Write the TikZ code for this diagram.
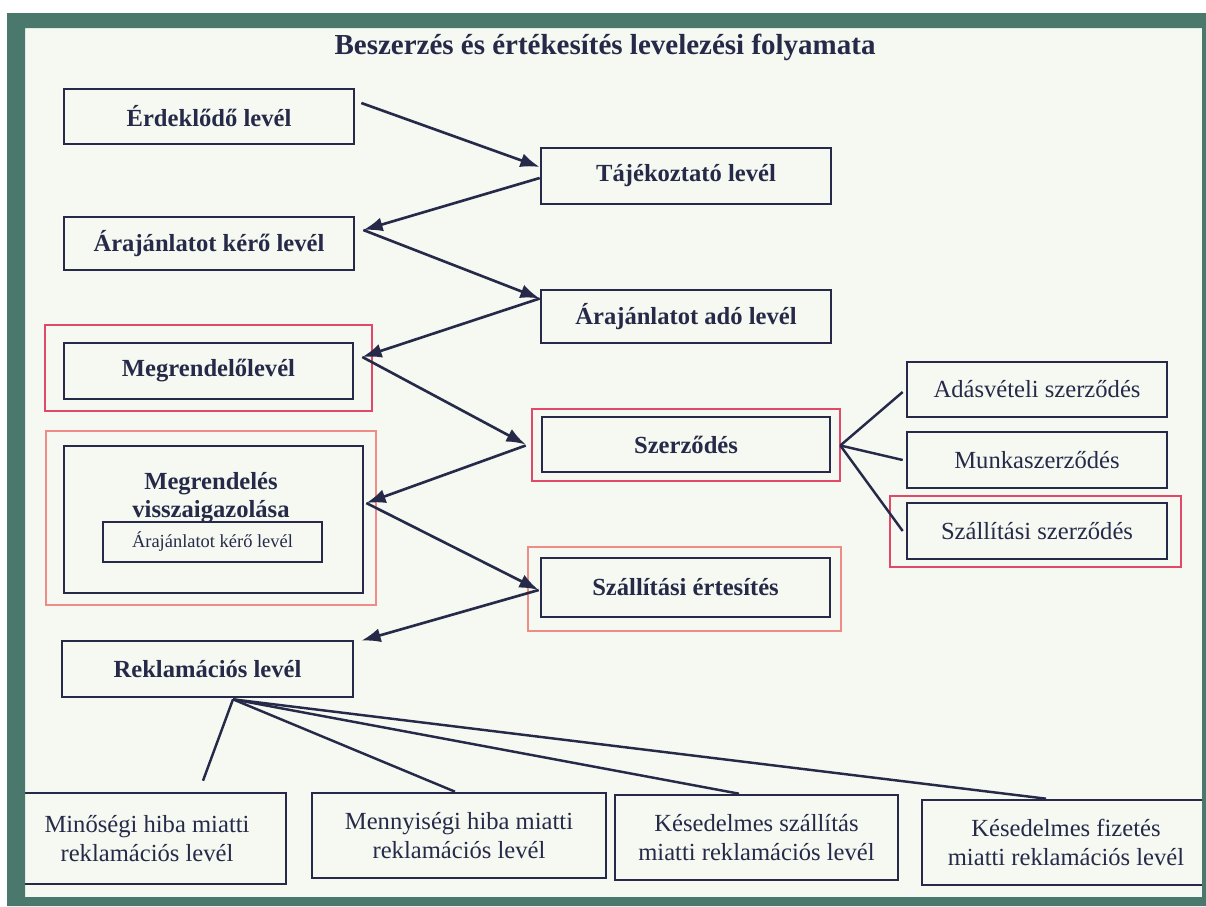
\documentclass[tikz,border=0pt]{standalone}
\usepackage{fontspec}
\setmainfont{Liberation Serif}
\usetikzlibrary{arrows.meta,calc}
\definecolor{framec}{RGB}{74,120,108}
\definecolor{paper}{RGB}{245,249,242}
\definecolor{ink}{RGB}{38,42,72}
\definecolor{redA}{RGB}{226,72,104}
\definecolor{redB}{RGB}{240,140,135}
\begin{document}
\begin{tikzpicture}[x=0.02cm,y=-0.02cm,
  box/.style={draw=ink, line width=1.5pt, inner sep=0pt, align=center, text=ink},
  bl/.style={font=\fontsize{14}{16}\selectfont\bfseries},
  rl/.style={font=\fontsize{14}{16}\selectfont},
  redbox/.style={draw=redA, line width=1.2pt, inner sep=0pt},
  redboxl/.style={draw=redB, line width=0.9pt, inner sep=0pt},
  arr/.style={draw=ink, line width=1.5pt, -{Latex[length=11pt,width=8pt]}},
  ln/.style={draw=ink, line width=1.4pt},
  wh/.style 2 args={minimum width=#1*0.02cm, minimum height=#2*0.02cm}]
\useasboundingbox (0,0) rectangle (1206,906);
\fill[white] (0,0) rectangle (1206,906);
\fill[paper] (25,28) rectangle (1202,897);

\node[font=\fontsize{16.5}{18}\selectfont\bfseries, text=ink] (title) at (605,47) {Beszerzés és értékesítés levelezési folyamata};

% red frames
\node[redbox, wh={327}{86}] (megR) at (208.5,368) {};
\node[redbox, wh={308}{72}] (szerR) at (686,445) {};
\node[redboxl, wh={330}{174}] (mviR) at (211,518) {};
\node[redboxl, wh={313}{84}] (szeR) at (684.5,589) {};
\node[redbox, wh={291}{71}] (szszR) at (1035.5,531.5) {};

% left column
\node[box, bl, wh={290}{55}] (erd) at (209,116.5) {Érdeklődő levél};
\node[box, bl, wh={290}{53}] (akl) at (209,243.5) {Árajánlatot kérő levél};
\node[box, bl, wh={289}{56}] (meg) at (208.5,371) {Megrendelőlevél};
\node[box, wh={299}{147}] (mvi) at (213.5,519.5) {};
\node[bl, text=ink, align=center] (mvit) at (211,498) {Megrendelés\\visszaigazolása};
\node[box, line width=1.3pt, font=\fontsize{10.5}{12}\selectfont, wh={219}{40}] (inner) at (212.5,542) {Árajánlatot kérő levél};
\node[box, bl, wh={291}{56}] (rek) at (207.5,669) {Reklamációs levél};

% middle column
\node[box, bl, wh={290}{56}] (taj) at (686,176) {Tájékoztató levél};
\node[box, bl, wh={290}{53}] (aad) at (686,316.5) {Árajánlatot adó levél};
\node[box, bl, wh={288}{55}] (szer) at (686,444.5) {Szerződés};
\node[box, bl, wh={289}{59}] (sze) at (685.5,587.5) {Szállítási értesítés};

% right column
\node[box, rl, wh={260}{55}] (adas) at (1037,389.5) {Adásvételi szerződés};
\node[box, rl, wh={260}{56}] (munka) at (1037,460) {Munkaszerződés};
\node[box, rl, wh={260}{56}] (szsz) at (1037,531) {Szállítási szerződés};

% bottom row
\node[box, rl, wh={278}{91}] (minh) at (147,838.5) {Minőségi hiba miatti\\reklamációs levél};
\node[box, rl, wh={294}{85}] (menny) at (459,835.5) {Mennyiségi hiba miatti\\reklamációs levél};
\node[box, rl, wh={283}{85}] (kszall) at (756.5,837.5) {Késedelmes szállítás\\miatti reklamációs levél};
\node[box, rl, wh={288}{85}] (kfiz) at (1066,842.5) {Késedelmes fizetés\\miatti reklamációs levél};

% arrows
\draw[arr] ($(erd.east)+(6,-13.5)$) -- ($(taj.west)+(0,-9)$);
\draw[arr] ($(taj.west)+(0,2)$) -- ($(akl.east)+(8,-13.5)$);
\draw[arr] ($(akl.east)+(8,-13.5)$) -- ($(aad.west)+(0,-18)$);
\draw[arr] ($(aad.west)+(0,-18)$) -- ($(meg.east)+(8,-14)$);
\draw[arr] ($(meg.east)+(8,-14)$) -- ($(szer.west)+(-15,0)$);
\draw[arr] ($(szer.west)+(-15,1)$) -- ($(mvi.east)+(2,-16.5)$);
\draw[arr] ($(mvi.east)+(2,-16.5)$) -- ($(sze.west)+(-1,2.5)$);
\draw[arr] ($(sze.west)+(-1,2.5)$) -- ($(rek.north east)+(7,1)$);

% Szerzodes branches
\draw[ln] ($(szer.east)+(9,1)$) -- ($(adas.west)+(-3,2.5)$);
\draw[ln] ($(szer.east)+(9,1)$) -- ($(munka.west)+(-3,0)$);
\draw[ln] ($(szer.east)+(9,1)$) -- ($(szsz.west)+(-3,0)$);

% Reklamacios fan
\draw[ln] ($(rek.south)+(25.5,1)$) -- ($(minh.north)+(56,-11)$);
\draw[ln] ($(rek.south)+(25.5,1)$) -- ($(menny.north)+(-4,0)$);
\draw[ln] ($(rek.south)+(25.5,1)$) -- ($(kszall.north)+(-17.5,0)$);
\draw[ln] ($(rek.south)+(25.5,1)$) -- ($(kfiz.north)+(-20,0)$);

% frame on top
\fill[framec, even odd rule] (7,13) rectangle (1206,906) (25,28) rectangle (1202,897);
\end{tikzpicture}
\end{document}
